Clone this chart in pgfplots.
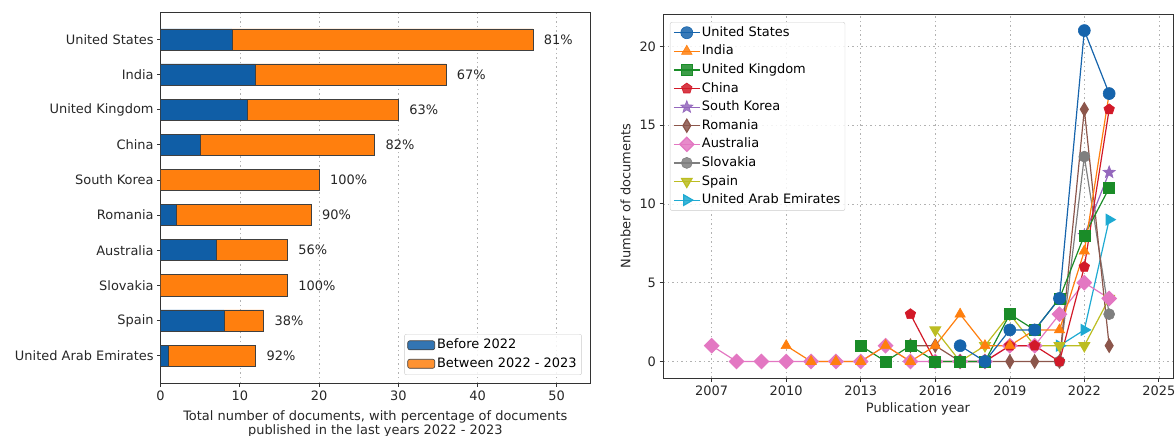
\documentclass[border=0pt]{standalone}
\usepackage{fontspec}
\setmainfont{DejaVu Sans}
\usepackage{pgfplots}
\pgfplotsset{compat=1.18}
\usepackage{pgfplotstable}
\usetikzlibrary{plotmarks}

\definecolor{cBlue}{RGB}{16,94,166}
\definecolor{cOrange}{RGB}{255,127,14}
\definecolor{cUS}{RGB}{22,100,172}
\definecolor{cIN}{RGB}{255,127,14}
\definecolor{cUK}{RGB}{26,140,40}
\definecolor{cCN}{RGB}{210,25,40}
\definecolor{cSK}{RGB}{148,103,189}
\definecolor{cRO}{RGB}{140,86,75}
\definecolor{cAU}{RGB}{227,119,194}
\definecolor{cSL}{RGB}{127,127,127}
\definecolor{cSP}{RGB}{188,189,34}
\definecolor{cAE}{RGB}{30,170,210}

% filled five-pointed star
\pgfdeclareplotmark{fstar}{%
  \pgfpathmoveto{\pgfpointpolar{90}{\pgfplotmarksize}}%
  \pgfpathlineto{\pgfpointpolar{126}{0.42\pgfplotmarksize}}%
  \pgfpathlineto{\pgfpointpolar{162}{\pgfplotmarksize}}%
  \pgfpathlineto{\pgfpointpolar{198}{0.42\pgfplotmarksize}}%
  \pgfpathlineto{\pgfpointpolar{234}{\pgfplotmarksize}}%
  \pgfpathlineto{\pgfpointpolar{270}{0.42\pgfplotmarksize}}%
  \pgfpathlineto{\pgfpointpolar{306}{\pgfplotmarksize}}%
  \pgfpathlineto{\pgfpointpolar{342}{0.42\pgfplotmarksize}}%
  \pgfpathlineto{\pgfpointpolar{18}{\pgfplotmarksize}}%
  \pgfpathlineto{\pgfpointpolar{54}{0.42\pgfplotmarksize}}%
  \pgfpathclose
  \pgfusepathqfillstroke
}

% documents per country: before 2022, in 2022-2023, total and share of 2022-2023
\pgfplotstableread{
y before between total pct
9 9  38 47 81
8 12 24 36 67
7 11 19 30 63
6 5  22 27 82
5 0  20 20 100
4 2  17 19 90
3 7  9  16 56
2 0  16 16 100
1 8  5  13 38
0 1  11 12 92
}\bartable

% documents per publication year
\pgfplotstableread{
year n
2017 1
2018 0
2019 2
2020 2
2021 4
2022 21
2023 17
}\tUS
\pgfplotstableread{
year n
2010 1
2011 0
2012 0
2013 0
2014 1
2015 0
2016 1
2017 3
2018 1
2019 1
2020 2
2021 2
2022 7
2023 17
}\tIN
\pgfplotstableread{
year n
2013 1
2014 0
2015 1
2016 0
2017 0
2018 0
2019 3
2020 2
2021 4
2022 8
2023 11
}\tUK
\pgfplotstableread{
year n
2015 3
2016 0
2017 0
2018 0
2019 1
2020 1
2021 0
2022 6
2023 16
}\tCN
\pgfplotstableread{
year n
2022 8
2023 12
}\tSK
\pgfplotstableread{
year n
2015 1
2016 1
2017 0
2018 0
2019 0
2020 0
2021 0
2022 16
2023 1
}\tRO
\pgfplotstableread{
year n
2007 1
2008 0
2009 0
2010 0
2011 0
2012 0
2013 0
2014 1
2015 0
2016 0
2017 0
2018 0
2019 1
2020 1
2021 3
2022 5
2023 4
}\tAU
\pgfplotstableread{
year n
2021 0
2022 13
2023 3
}\tSL
\pgfplotstableread{
year n
2016 2
2017 0
2018 1
2019 3
2020 1
2021 1
2022 1
2023 4
}\tSP
\pgfplotstableread{
year n
2021 1
2022 2
2023 9
}\tAE

\newcommand\chartfont{\fontsize{13}{14.5}\selectfont}

\pgfplotsset{
  every axis/.append style={
    font=\chartfont,
    scale only axis,
    axis line style={black!80, line width=0.8bp},
    tick style={black!80, line width=0.8bp},
    tick align=outside,
    major tick length=3.5bp,
    xtick pos=left, ytick pos=left,
    /pgf/number format/assume math mode=true,
    tick label style={text=black!85},
    label style={text=black!85},
    major grid style={dash pattern=on 1.5bp off 3bp, black!30, line width=0.6bp},
  },
  barframe/.style={at={(160.6bp,53bp)}, anchor=south west,
    width=429.4bp, height=371bp,
    xmin=0, xmax=54.2, ymin=-0.78, ymax=9.78},
  ser/.style={line width=1.2bp, color=#1, mark options={solid, fill=#1, draw=#1, line width=0.6bp}},
}

\begin{document}
\begin{tikzpicture}
\useasboundingbox (0,0) rectangle (1175bp,436bp);

% ---- horizontal stacked bars ----
\begin{axis}[
  barframe,
  xbar stacked, bar width=0.6,
  xtick={0,10,...,50},
  ytick={0,...,9},
  yticklabels={United Arab Emirates, Spain, Slovakia, Australia, Romania,
               South Korea, China, United Kingdom, India, United States},
  x tick label style={yshift=-1bp},
  xmajorgrids,
  xlabel={Total number of documents, with percentage of documents\\published in the last years 2022 - 2023},
  xlabel style={align=center, at={(axis description cs:0.5,0)}, anchor=north, yshift=-27bp, inner sep=0pt},
  legend style={at={(axis description cs:0.981,0.0216)}, anchor=south east,
    draw=black!20, rounded corners=2bp, fill=white, fill opacity=0.85, text opacity=1,
    font=\chartfont, row sep=2.5bp, inner sep=3bp,
    nodes={inner sep=2bp, text height=9.5bp, text depth=2.5bp}},
  legend cell align=left,
]
\addplot[fill=cBlue, draw=black!75, line width=0.6bp,
  legend image code/.code={\draw[fill=cBlue, draw=black!75, line width=0.6bp] (0bp,-4.5bp) rectangle (27bp,4.5bp);}]
  table[x=before, y=y] {\bartable};
\addplot[fill=cOrange, draw=black!75, line width=0.6bp,
  legend image code/.code={\draw[fill=cOrange, draw=black!75, line width=0.6bp] (0bp,-4.5bp) rectangle (27bp,4.5bp);}]
  table[x=between, y=y] {\bartable};
\legend{Before 2022, Between 2022 - 2023}
\end{axis}

% share labels at the end of each bar
\begin{axis}[barframe, hide axis]
\addplot[draw=none, mark=none,
  nodes near coords={\pgfplotspointmeta\%},
  point meta=explicit symbolic,
  every node near coord/.append style={anchor=west, xshift=7.5bp, text=black!85,
    font=\chartfont}]
  table[x=total, y=y, meta=pct] {\bartable};
\end{axis}

% ---- documents per year ----
\begin{axis}[
  at={(663bp,58bp)}, anchor=south west,
  width=510bp, height=364bp,
  xmin=2005.04, xmax=2025.57, ymin=-1.05, ymax=22.05,
  xtick={2007,2010,...,2025}, ytick={0,5,...,20},
  x tick label style={/pgf/number format/1000 sep={}, yshift=-1bp},
  grid=major,
  xlabel={Publication year}, ylabel={Number of documents},
  ylabel style={yshift=2bp},
  legend style={at={(axis description cs:0.0137,0.978)}, anchor=north west,
    draw=black!20, rounded corners=2bp, fill=white, fill opacity=0.85, text opacity=1,
    font=\chartfont, row sep=3.6bp, inner sep=3bp,
    nodes={inner sep=1.5bp, text height=9.5bp, text depth=2.5bp}},
  legend cell align=left,
  reverse legend,
  legend image code/.code={\draw[mark repeat=2, mark phase=2, #1]
    plot coordinates {(0bp,0bp) (13bp,0bp) (26bp,0bp)};},
]
\addplot[ser=cAE, mark=triangle*, mark size=6bp, mark options={rotate=-90}] table[x=year, y=n] {\tAE};
\addplot[ser=cSP, mark=triangle*, mark size=6bp, mark options={rotate=180}] table[x=year, y=n] {\tSP};
\addplot[ser=cSL, mark=*, mark size=5.5bp] table[x=year, y=n] {\tSL};
\addplot[ser=cAU, mark=square*, mark size=5bp, mark options={rotate=45}] table[x=year, y=n] {\tAU};
\addplot[ser=cRO, mark=diamond*, mark size=6.5bp, mark options={xscale=0.8}] table[x=year, y=n] {\tRO};
\addplot[ser=cSK, mark=fstar, mark size=6.5bp] table[x=year, y=n] {\tSK};
\addplot[ser=cCN, mark=pentagon*, mark size=5.5bp] table[x=year, y=n] {\tCN};
\addplot[ser=cUK, mark=square*, mark size=5.5bp] table[x=year, y=n] {\tUK};
\addplot[ser=cIN, mark=triangle*, mark size=6bp] table[x=year, y=n] {\tIN};
\addplot[ser=cUS, mark=*, mark size=6bp] table[x=year, y=n] {\tUS};
\legend{United Arab Emirates, Spain, Slovakia, Australia, Romania, South Korea, China, United Kingdom, India, United States}
\end{axis}
\end{tikzpicture}
\end{document}
